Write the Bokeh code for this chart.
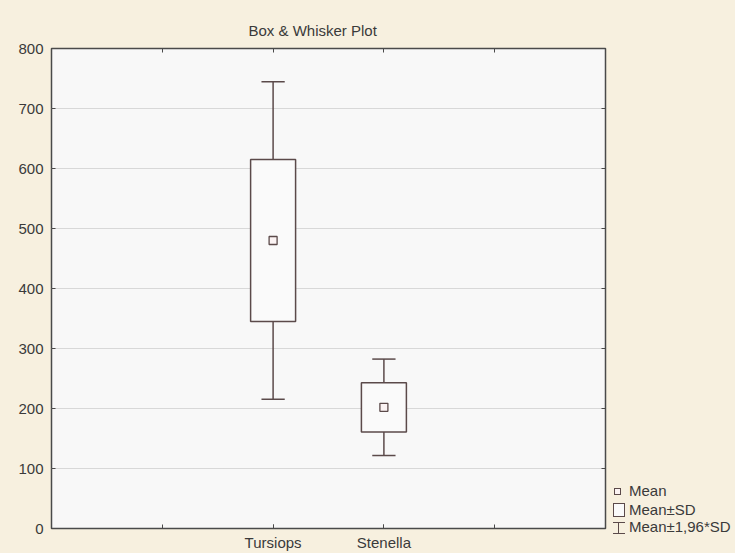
from bokeh.plotting import figure
from bokeh.models import Range1d, FixedTicker, LinearAxis, Title, Div
from bokeh.layouts import row
from bokeh.embed import file_html
from bokeh.resources import INLINE

# ---- data ----
categories = ["Tursiops", "Stenella"]
cat_pos = [2, 3]
means = [480, 202]
sds = [135, 41]
x_minor_ticks = [1, 2, 3, 4]
y_ticks = [0, 100, 200, 300, 400, 500, 600, 700, 800]
legend_labels = ["Mean", "Mean\u00b1SD", "Mean\u00b11,96*SD"]

FONT = "Liberation Sans"
BEIGE = "#F7F0DF"
LINE = "#5b4a4a"
TXT = "#3a3a3a"
TICK = "#4a4a4a"

sd_lo = [m - s for m, s in zip(means, sds)]
sd_hi = [m + s for m, s in zip(means, sds)]
w_lo = [m - 1.96 * s for m, s in zip(means, sds)]
w_hi = [m + 1.96 * s for m, s in zip(means, sds)]

H = 553
FRAME_TOP, FRAME_BOTTOM = 48, 530
p = figure(width=608, height=H, x_range=Range1d(0, 5), y_range=Range1d(0, 800),
           output_backend="svg", toolbar_location=None,
           min_border_left=51, min_border_right=3, min_border_bottom=H - FRAME_BOTTOM,
           min_border_top=FRAME_TOP)
p.background_fill_color = "#F8F8F8"
p.border_fill_color = BEIGE
p.outline_line_color = "#4a4a4a"
p.outline_line_width = 1.5

p.title = Title(text="Box & Whisker Plot", align="left", offset=197, standoff=19,
                text_font=FONT, text_font_size="15px", text_font_style="normal",
                text_color=TXT)

# bottom axis: labels at category positions, inner ticks at 1..4
p.xaxis.ticker = FixedTicker(ticks=cat_pos, minor_ticks=x_minor_ticks)
p.xaxis.major_label_overrides = {cat_pos[0]: categories[0], cat_pos[1]: categories[1]}
p.yaxis.ticker = FixedTicker(ticks=y_ticks)
for ax in (p.xaxis[0], p.yaxis[0]):
    ax.axis_line_color = None
    ax.major_tick_in = 4
    ax.major_tick_out = 0
    ax.minor_tick_in = 4
    ax.minor_tick_out = 0
    ax.minor_tick_line_color = TICK
    ax.major_tick_line_color = TICK
    ax.major_label_text_font = FONT
    ax.major_label_text_font_size = "15px"
    ax.major_label_text_color = TXT
p.yaxis.minor_tick_line_color = None
p.yaxis.major_label_standoff = 8
p.xaxis.major_label_standoff = 5

top_ax = LinearAxis(ticker=FixedTicker(ticks=[], minor_ticks=x_minor_ticks), axis_line_color=None,
                    major_tick_line_color=None, minor_tick_in=4, minor_tick_out=0,
                    minor_tick_line_color=TICK, major_label_text_color=None,
                    major_label_standoff=0)
right_ax = LinearAxis(ticker=FixedTicker(ticks=[], minor_ticks=y_ticks), axis_line_color=None,
                      major_tick_line_color=None, minor_tick_in=4, minor_tick_out=0,
                      minor_tick_line_color=TICK, major_label_text_color=None,
                      major_label_standoff=0)
p.add_layout(top_ax, "above")
p.add_layout(right_ax, "right")

p.xgrid.grid_line_color = None
p.ygrid.grid_line_color = "#b8b8b8"
p.ygrid.grid_line_dash = "1 1"

# whiskers
p.segment(x0=cat_pos, x1=cat_pos, y0=w_lo, y1=sd_lo, line_color=LINE, line_width=1.5)
p.segment(x0=cat_pos, x1=cat_pos, y0=sd_hi, y1=w_hi, line_color=LINE, line_width=1.5)
cap = 0.105
p.segment(x0=[x - cap for x in cat_pos], x1=[x + cap for x in cat_pos], y0=w_lo, y1=w_lo,
          line_color=LINE, line_width=1.5)
p.segment(x0=[x - cap for x in cat_pos], x1=[x + cap for x in cat_pos], y0=w_hi, y1=w_hi,
          line_color=LINE, line_width=1.5)
# boxes
hb = 0.203
p.quad(left=[x - hb for x in cat_pos], right=[x + hb for x in cat_pos], bottom=sd_lo, top=sd_hi,
       fill_color="#FAFAFA", line_color=LINE, line_width=1.5)
# means
p.scatter(x=cat_pos, y=means, marker="square", size=8, fill_color="#FBF3F3",
          line_color=LINE, line_width=1.3)

# ---- legend panel (HTML, page pixels) ----
QW = 127
ly = [491, 510, 527]


def box(left, top, w, h, fill="transparent", border=True):
    b = f"border:1px solid {LINE};" if border else f"background:{LINE};"
    bg = f"background:{fill};" if border else ""
    return (f'<div style="position:absolute;left:{left}px;top:{top}px;width:{w}px;'
            f'height:{h}px;{b}{bg}box-sizing:border-box;"></div>')


parts = [
    box(6, ly[0] - 3, 7, 7, "#FBF3F3"),
    box(5, ly[1] - 7, 12, 14, "#FAFAFA"),
    box(10, ly[2] - 5, 1, 12, border=False),
    box(5, ly[2] - 5, 12, 1, border=False),
    box(5, ly[2] + 6, 12, 1, border=False),
]
for y, lab in zip(ly, legend_labels):
    parts.append(f'<div style="position:absolute;left:21px;top:{y - 9}px;height:18px;'
                 f'line-height:18px;white-space:nowrap;">{lab}</div>')
html = (f'<div style="position:relative;width:{QW}px;height:{H}px;background:{BEIGE};'
        f"font-family:'{FONT}';font-size:15px;color:{TXT};overflow:hidden;\">"
        + "".join(parts) + "</div>")
q = Div(text=html, width=QW, height=H, styles={"background-color": BEIGE, "margin": "0"})

layout = row(p, q, spacing=0, styles={"background-color": BEIGE})
open("out.html", "w").write(file_html(layout, INLINE))
